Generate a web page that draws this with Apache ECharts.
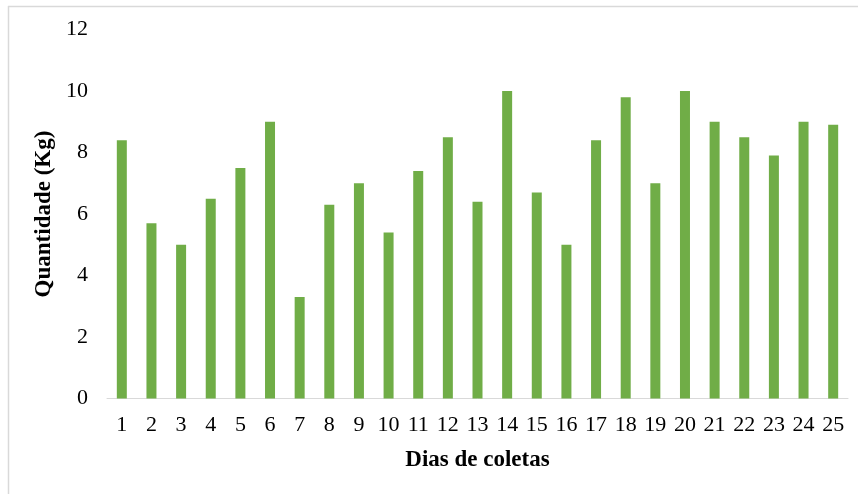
<!DOCTYPE html>
<html>
<head>
<meta charset="utf-8">
<script src="https://cdn.jsdelivr.net/npm/echarts@6/dist/echarts.min.js"></script>
<style>
html,body{margin:0;padding:0;background:#fff;}
#chart{width:858px;height:494px;}
</style>
</head>
<body>
<div id="chart"></div>
<script>
const categories = ['1','2','3','4','5','6','7','8','9','10','11','12','13','14','15','16','17','18','19','20','21','22','23','24','25'];
const values = [8.4,5.7,5.0,6.5,7.5,9.0,3.3,6.3,7.0,5.4,7.4,8.5,6.4,10.0,6.7,5.0,8.4,9.8,7.0,10.0,9.0,8.5,7.9,9.0,8.9];
const yTicks = [0,2,4,6,8,10,12];
const xTitle = 'Dias de coletas';
const yTitle = 'Quantidade (Kg)';

const chart = echarts.init(document.getElementById('chart'), null, {renderer:'canvas'});
const serif = '"Liberation Serif", "DejaVu Serif", serif';
chart.setOption({
  animation: false,
  backgroundColor: '#fff',
  graphic: [
    {type:'line', shape:{x1:8, y1:6.5, x2:858, y2:6.5}, style:{stroke:'#d9d9d9', lineWidth:1.5}},
    {type:'line', shape:{x1:8.5, y1:6, x2:8.5, y2:494}, style:{stroke:'#d9d9d9', lineWidth:1.5}}
  ],
  grid: {left:107, right:10, top:29.5, bottom:95.5, containLabel:false},
  xAxis: {
    type:'category',
    data: categories,
    name: xTitle,
    nameLocation:'middle',
    nameGap: 50,
    nameTextStyle:{fontFamily:serif, fontWeight:'bold', fontSize:23, color:'#000'},
    axisLine:{show:true, lineStyle:{color:'#d9d9d9', width:1}},
    axisTick:{show:false},
    axisLabel:{fontFamily:serif, fontSize:22, color:'#000', margin:16, interval:0}
  },
  yAxis: {
    type:'value',
    min: yTicks[0],
    max: yTicks[yTicks.length-1],
    interval: 2,
    name: yTitle,
    nameLocation:'middle',
    nameGap: 47,
    nameTextStyle:{fontFamily:serif, fontWeight:'bold', fontSize:23, color:'#000'},
    axisLine:{show:false},
    axisTick:{show:false},
    splitLine:{show:false},
    axisLabel:{fontFamily:serif, fontSize:22, color:'#000', margin:19}
  },
  series: [{
    type:'bar',
    data: values,
    barWidth: 10,
    itemStyle:{color:'#70ad47'}
  }]
});
</script>
</body>
</html>
